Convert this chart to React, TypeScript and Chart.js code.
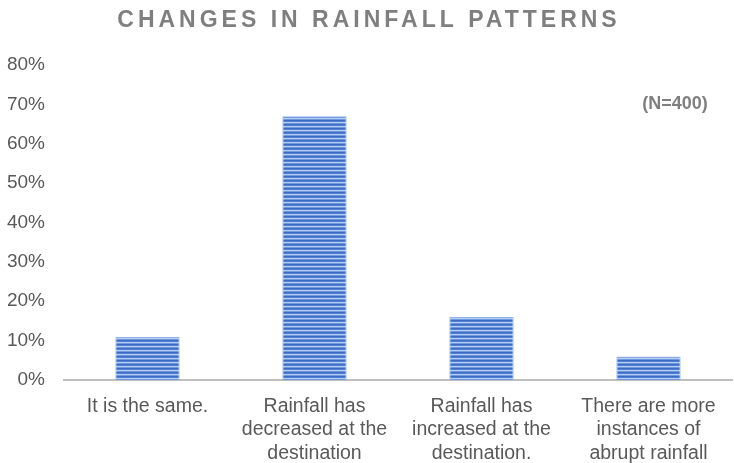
import React, { useEffect, useRef } from "react";
import { Chart, registerables } from "chart.js";

Chart.register(...registerables);

const categories: string[][] = [
  ["It is the same."],
  ["Rainfall has", "decreased at the", "destination"],
  ["Rainfall has", "increased at the", "destination."],
  ["There are more", "instances of", "abrupt rainfall"],
];
const shares: number[] = [11, 67, 16, 6];
const yTicks: number[] = [0, 10, 20, 30, 40, 50, 60, 70, 80];
const chartTitle = "CHANGES IN RAINFALL PATTERNS";
const sampleNote = "(N=400)";

const FONT = "'Liberation Sans', Arial, sans-serif";

// Horizontal-line fill used for the bars
function makeStripePattern(ctx: CanvasRenderingContext2D): CanvasPattern | string {
  const tile = document.createElement("canvas");
  tile.width = 4;
  tile.height = 4;
  const t = tile.getContext("2d");
  if (!t) return "#5b89d8";
  const rows = ["#3c6bc2", "#5281d5", "#b3ccf2", "#7299df"];
  rows.forEach((c, i) => {
    t.fillStyle = c;
    t.fillRect(0, i, 4, 1);
  });
  return ctx.createPattern(tile, "repeat") || "#5b89d8";
}

const headerPlugin = {
  id: "header",
  afterDraw(chart: Chart) {
    const { ctx, chartArea } = chart;
    ctx.save();
    ctx.fillStyle = "#7f7f7f";
    ctx.textAlign = "center";
    ctx.textBaseline = "middle";
    ctx.font = `bold 23px ${FONT}`;
    (ctx as any).letterSpacing = "4px";
    ctx.fillText(chartTitle, chart.width / 2 + 2, 21);
    (ctx as any).letterSpacing = "0px";
    ctx.font = `bold 18px ${FONT}`;
    ctx.fillStyle = "#7f7f7f";
    ctx.fillText(sampleNote, chartArea.right - 57, 104);
    ctx.restore();
  },
};

export default function App() {
  const canvasRef = useRef<HTMLCanvasElement | null>(null);

  useEffect(() => {
    document.body.style.margin = "0";
    const canvas = canvasRef.current;
    if (!canvas) return;
    const ctx = canvas.getContext("2d");
    if (!ctx) return;
    const pattern = makeStripePattern(ctx);

    const chart = new Chart(canvas, {
      type: "bar",
      data: {
        labels: categories,
        datasets: [
          {
            data: shares,
            backgroundColor: pattern as any,
            borderColor: "#8eb0e8",
            borderWidth: 1,
            barPercentage: 0.385,
            categoryPercentage: 1,
          },
        ],
      },
      options: {
        animation: false,
        responsive: false,
        maintainAspectRatio: false,
        layout: { padding: { top: 65, right: 2, left: 0, bottom: 0 } },
        plugins: {
          legend: { display: false },
          title: { display: false },
          tooltip: { enabled: false },
        },
        scales: {
          x: {
            grid: { display: false, drawTicks: false },
            border: { display: true, color: "#bfbfbf", width: 2 },
            ticks: {
              color: "#595959",
              font: { family: FONT, size: 19.5, lineHeight: 1.2 },
              padding: 15,
              maxRotation: 0,
              autoSkip: false,
            },
            afterFit(scale: any) {
              scale.height = 83;
            },
          },
          y: {
            min: 0,
            max: 80,
            grid: { display: false, drawTicks: false },
            border: { display: false },
            afterBuildTicks(scale: any) {
              scale.ticks = yTicks.map((v) => ({ value: v }));
            },
            ticks: {
              color: "#595959",
              font: { family: FONT, size: 19 },
              padding: 19,
              callback: (v: any) => `${v}%`,
            },
            afterFit(scale: any) {
              scale.width = 64;
            },
          },
        },
      },
      plugins: [headerPlugin],
    });
    return () => chart.destroy();
  }, []);

  return <canvas ref={canvasRef} width={734} height={463} style={{ display: "block" }} />;
}
